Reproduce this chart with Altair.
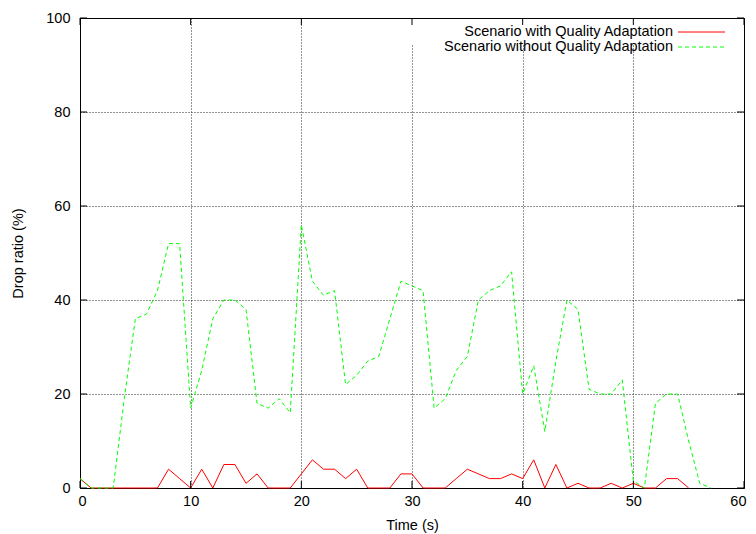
import altair as alt
import pandas as pd

# ---- data ----
series_names = ["Scenario with Quality Adaptation", "Scenario without Quality Adaptation"]
time_with = list(range(0, 56))
drop_with = [2, 0, 0, 0, 0, 0, 0, 0, 4, 2,
             0, 4, 0, 5, 5, 1, 3, 0, 0, 0,
             3, 6, 4, 4, 2, 4, 0, 0, 0, 3,
             3, 0, 0, 0, 2, 4, 3, 2, 2, 3,
             2, 6, 0, 5, 0, 1, 0, 0, 1, 0,
             1, 0, 0, 2, 2, 0]
time_without = list(range(0, 58))
drop_without = [2, 0, 0, 0, 19, 36, 37, 42, 52, 52,
                17, 25, 36, 40, 40, 38, 18, 17, 19, 16,
                56, 44, 41, 42, 22, 24, 27, 28, 36, 44,
                43, 42, 17, 19, 25, 28, 40, 42, 43, 46,
                20, 26, 12, 27, 40, 38, 21, 20, 20, 23,
                1.5, 0, 18, 20, 20, 10, 1, 0]
x_ticks = [0, 10, 20, 30, 40, 50, 60]
y_ticks = [0, 20, 40, 60, 80, 100]

W, H = 664, 470
FONT = "Liberation Sans"
FS = 14.5
TICK = 7
GREEN = "#00ff00"
RED = "#ff0000"

df_with = pd.DataFrame({"t": time_with, "v": drop_with})
df_without = pd.DataFrame({"t": time_without, "v": drop_without})
df_xt = pd.DataFrame({"t": x_ticks})
df_yt = pd.DataFrame({"v": y_ticks})

xs = alt.Scale(domain=[0, 60], nice=False, zero=False)
ys = alt.Scale(domain=[0, 100], nice=False, zero=False)

x_axis = alt.Axis(values=x_ticks, grid=True, gridDash=[1, 2], gridColor="#000000",
                  gridOpacity=0.85, ticks=False, domain=False, labelFont=FONT,
                  labelFontSize=FS, labelColor="#000000", labelPadding=6,
                  labelFlush=True, labelFlushOffset=2,
                  title="Time (s)", titleFont=FONT, titleFontSize=FS,
                  titleFontWeight="normal", titleColor="#000000",
                  titleY=41, titleBaseline="alphabetic")
y_axis = alt.Axis(values=y_ticks, grid=True, gridDash=[1, 2], gridColor="#000000",
                  gridOpacity=0.85, ticks=False, domain=False, labelFont=FONT,
                  labelFontSize=FS, labelColor="#000000", labelPadding=10,
                  title="Drop ratio (%)", titleFont=FONT, titleFontSize=FS,
                  titleFontWeight="normal", titleColor="#000000",
                  titleX=-62, titleY=H / 2, titleAlign="center", titleBaseline="middle")

X = alt.X("t:Q", scale=xs, axis=x_axis)
Y = alt.Y("v:Q", scale=ys, axis=y_axis)

line_with = alt.Chart(df_with).mark_line(color=RED, strokeWidth=1).encode(x=X, y=Y)
line_without = alt.Chart(df_without).mark_line(
    color=GREEN, strokeWidth=1, strokeDash=[4, 3]).encode(x=X, y=Y)

mask = alt.Chart(df_xt).mark_rect(color="white").encode(
    x=alt.value(325), x2=alt.value(W - 1), y=alt.value(1), y2=alt.value(26)
)

xt_bottom = alt.Chart(df_xt).mark_rule(color="black", strokeWidth=1).encode(
    x=X, y=alt.value(H), y2=alt.value(H - TICK))
xt_top = alt.Chart(df_xt).mark_rule(color="black", strokeWidth=1).encode(
    x=X, y=alt.value(0), y2=alt.value(TICK))
yt_left = alt.Chart(df_yt).mark_rule(color="black", strokeWidth=1).encode(
    y=Y, x=alt.value(0), x2=alt.value(TICK))
yt_right = alt.Chart(df_yt).mark_rule(color="black", strokeWidth=1).encode(
    y=Y, x=alt.value(W), x2=alt.value(W - TICK))

df_leg1 = pd.DataFrame({"label": [series_names[0]]})
df_leg2 = pd.DataFrame({"label": [series_names[1]]})
leg_text1 = alt.Chart(df_leg1).mark_text(align="right", baseline="middle", font=FONT,
                                         fontSize=FS, color="black").encode(
    text="label:N", x=alt.value(593), y=alt.value(14))
leg_text2 = alt.Chart(df_leg2).mark_text(align="right", baseline="middle", font=FONT,
                                         fontSize=FS, color="black").encode(
    text="label:N", x=alt.value(593), y=alt.value(29))
leg_line1 = alt.Chart(df_leg1).mark_rule(color=RED, strokeWidth=1).encode(
    x=alt.value(598), x2=alt.value(645), y=alt.value(14))
leg_line2 = alt.Chart(df_leg2).mark_rule(color=GREEN, strokeWidth=1, strokeDash=[4, 3]).encode(
    x=alt.value(598), x2=alt.value(645), y=alt.value(29))

chart = alt.layer(
    line_with, line_without, mask, xt_bottom, xt_top, yt_left, yt_right,
    leg_text1, leg_text2, leg_line1, leg_line2
).properties(
    width=W, height=H,
    autosize=alt.AutoSizeParams(type="none"),
    padding={"left": 72, "top": 10, "right": 4, "bottom": 46},
    background="white",
).configure_view(stroke="black", strokeWidth=1)

chart.save("out.html", embed_options={"renderer": "svg", "actions": False})
